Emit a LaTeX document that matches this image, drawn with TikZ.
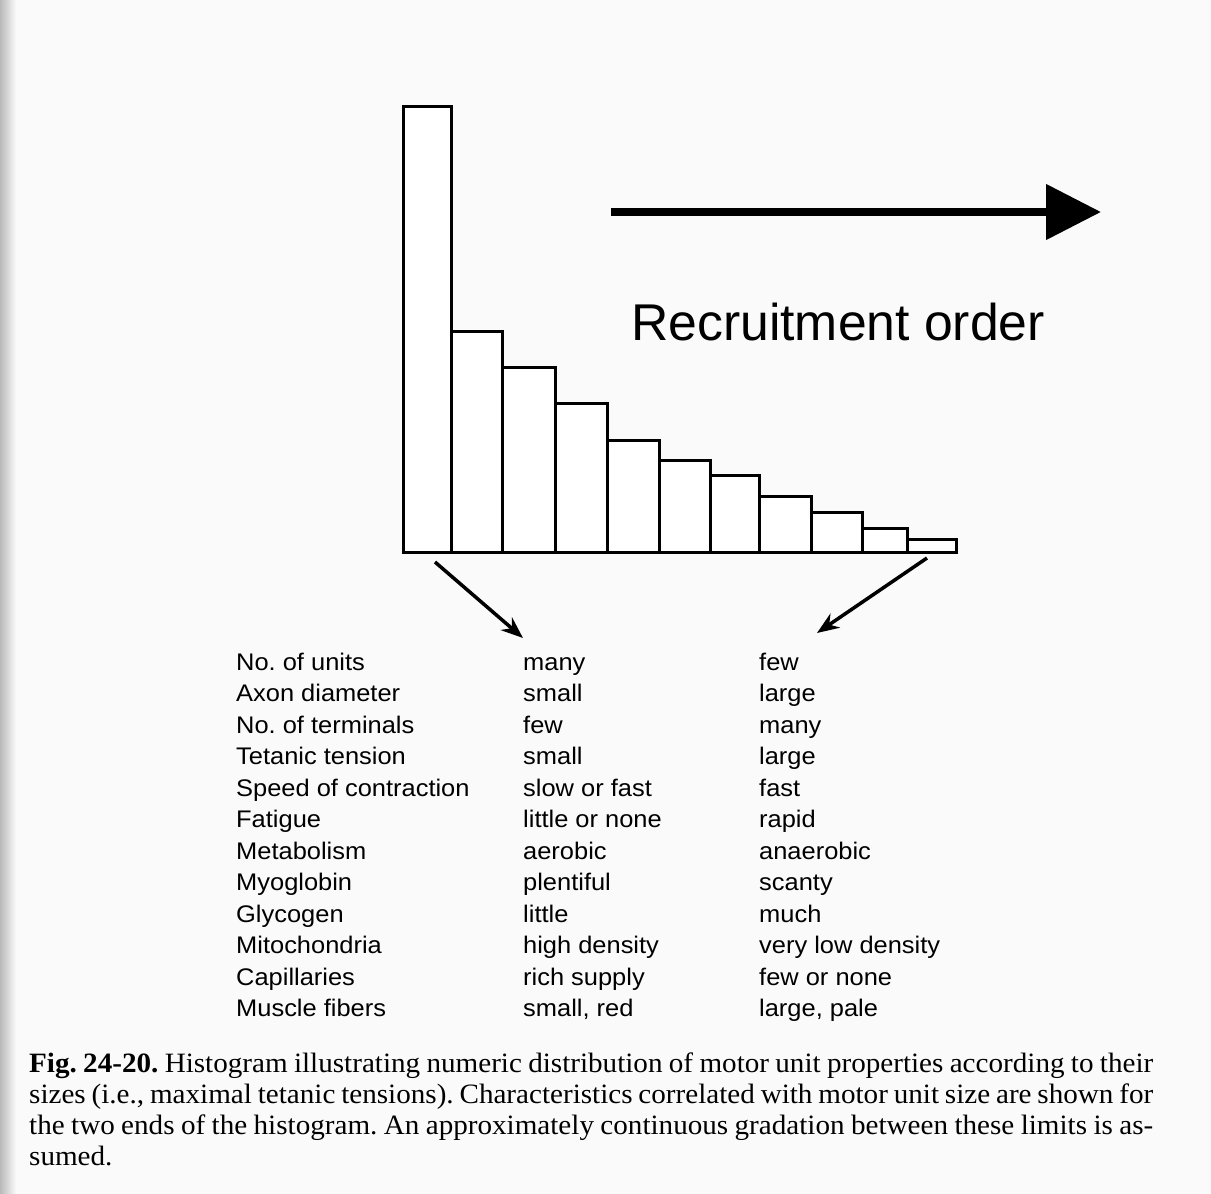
\documentclass[tikz,border=0pt]{standalone}
\usepackage{fontspec}
\setmainfont{Liberation Serif}[FakeStretch=1.04]
\newfontfamily\tblfam[FakeStretch=1.06]{Liberation Sans}
\newfontfamily\rofam{Liberation Sans}
\usetikzlibrary{arrows.meta}
\frenchspacing
\tikzset{
  bar/.style={draw, line width=3pt, fill=white, inner sep=0pt, outer sep=0pt, anchor=south west},
  pointer/.style={-{Stealth[length=22pt,width=17pt]}, line width=3.5pt},
  bigarrow/.style={-{Triangle[length=55pt,width=54pt]}, line width=8pt},
  prop/.style={anchor=base west, inner sep=0pt, font=\tblfam\fontsize{24}{28}\selectfont},
  capline/.style={anchor=base west, inner sep=0pt, font=\fontsize{28}{32}\selectfont},
  rolabel/.style={anchor=base west, inner sep=0pt, font=\rofam\fontsize{51.7}{60}\selectfont}
}
\begin{document}
\begin{tikzpicture}[x=1pt,y=-1pt]
  % page
  \fill[gray!4] (0,0) rectangle (1211,1194);
  \shade[left color=gray!55, right color=gray!4] (0,0) rectangle (16,1194);
  \useasboundingbox (0,0) rectangle (1211,1194);

  % histogram bars
  \foreach \i/\l/\r/\t in {1/403/451/106, 2/451/502/331, 3/502/555/367, 4/555/607/403,
                          5/607/659/440, 6/659/710/460, 7/710/759/475, 8/759/811/496,
                          9/811/862/512, 10/862/907/528, 11/907/956/539} {
    \node[bar, minimum width={(\r-\l)*1pt}, minimum height={(552-\t)*1pt}] (b\i) at (\l,552) {};
  }

  % recruitment order arrow
  \coordinate (rs) at (611,212);
  \coordinate (re) at (1101,212);
  \draw[bigarrow] (rs) -- (re);
  \node[rolabel] (ro) at (631,340) {Recruitment order};

  % property table
  \foreach \k/\a/\b/\c in {0/No. of units/many/few,
                           1/Axon diameter/small/large,
                           2/No. of terminals/few/many,
                           3/Tetanic tension/small/large,
                           4/Speed of contraction/slow or fast/fast,
                           5/Fatigue/little or none/rapid,
                           6/Metabolism/aerobic/anaerobic,
                           7/Myoglobin/plentiful/scanty,
                           8/Glycogen/little/much,
                           9/Mitochondria/high density/very low density,
                           10/Capillaries/rich supply/few or none,
                           11/Muscle fibers/{small, red}/{large, pale}} {
    \node[prop] (p\k) at (236,670+31.5*\k) {\a};
    \node[prop] (s\k) at (523,670+31.5*\k) {\b};
    \node[prop] (l\k) at (759,670+31.5*\k) {\c};
  }

  % pointers from the histogram ends to the columns
  \coordinate (la) at (435,562);
  \coordinate (lt) at (523,638);
  \coordinate (ra) at (927,558);
  \coordinate (rt) at (817,633);
  \draw[pointer] (la) -- (lt);
  \draw[pointer] (ra) -- (rt);

  % caption
  \node[capline] (c1) at (29,1072) {\makebox[1124pt][s]{\textbf{Fig. 24-20.} Histogram illustrating numeric distribution of motor unit properties according to their}};
  \node[capline] (c2) at (29,1103) {\makebox[1124pt][s]{sizes (i.e., maximal tetanic tensions). Characteristics correlated with motor unit size are shown for}};
  \node[capline] (c3) at (29,1134) {\makebox[1124pt][s]{the two ends of the histogram. An approximately continuous gradation between these limits is as-}};
  \node[capline] (c4) at (29,1165) {sumed.};
\end{tikzpicture}
\end{document}
